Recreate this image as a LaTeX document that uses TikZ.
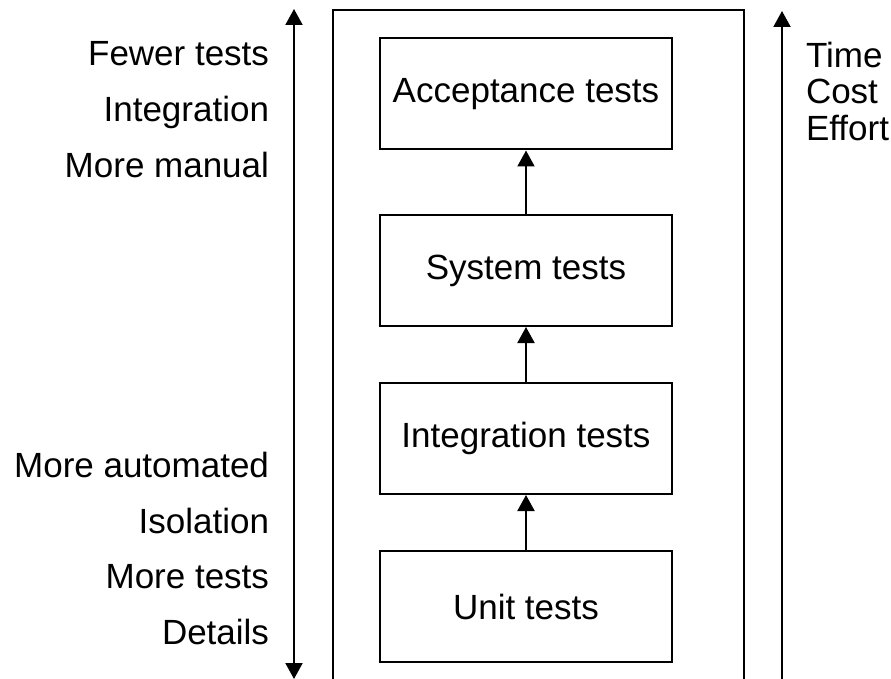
\documentclass[tikz,border=0pt]{standalone}
\usepackage{fontspec}
\setmainfont{Liberation Sans}
\usetikzlibrary{arrows.meta}
\begin{document}
\begin{tikzpicture}[x=1pt,y=-1pt,
  font=\fontsize{35}{36.5}\selectfont,
  line width=2pt,
  head/.tip={Triangle[length=16pt,width=17pt]},
  tip/.style={-head},
  level/.style={draw, minimum width=292pt, minimum height=111pt, inner sep=0pt},
  lab/.style={anchor=base east, inner sep=0pt},
  link/.style={tip}]
\useasboundingbox (0,0) rectangle (891,679);
% outer frame, open at the bottom
\draw (333,690) -- (333,10) -- (744,10) -- (744,690);
% axis arrows
\coordinate (ltop) at (294,9);
\coordinate (lbot) at (294,679);
\draw[head-head] (lbot) -- (ltop);
\coordinate (rtop) at (782,11);
\coordinate (rbot) at (782,690);
\draw[tip] (rbot) -- (rtop);
% test levels
\node[level] (acc) at (526,94) {Acceptance tests};
\node[level] (sys) at (526,270.5) {System tests};
\node[level] (int) at (526,438.5) {Integration tests};
\node[level] (unit) at (526,606.5) {Unit tests};
\draw[link] (unit) -- (int);
\draw[link] (int) -- (sys);
\draw[link] (sys) -- (acc);
% left labels
\node[lab] (l1) at (270,66) {Fewer tests};
\node[lab] (l2) at (270,122) {Integration};
\node[lab] (l3) at (270,178) {More manual};
\node[lab] (l4) at (270,477) {More automated};
\node[lab] (l5) at (270,533) {Isolation};
\node[lab] (l6) at (270,588) {More tests};
\node[lab] (l7) at (270,644) {Details};
% right labels
\node[anchor=north west, inner sep=0pt, align=left] (r) at (805,41) {Time\\Cost\\Effort};
\end{tikzpicture}
\end{document}
